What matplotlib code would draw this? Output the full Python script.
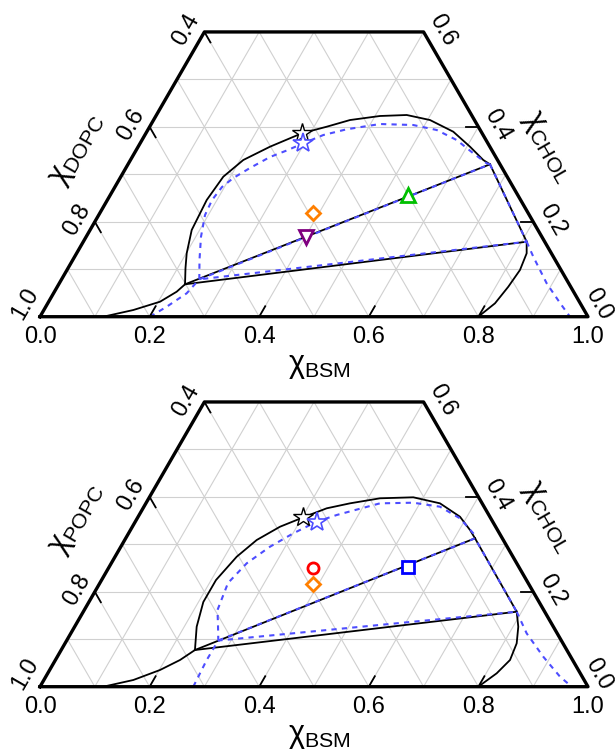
import numpy as np
import matplotlib
matplotlib.use('Agg')
import matplotlib.pyplot as plt

# compositions are (x_BSM, x_CHOL); the third lipid is 1 - BSM - CHOL

# --- top panel: BSM / DOPC / CHOL ---
dopc_black_bsm = [0.1155, 0.1632, 0.2032, 0.2231, 0.2305, 0.2142, 0.2009, 0.1855,
                  0.1813, 0.1870, 0.2059, 0.2406, 0.2844, 0.3230, 0.3585, 0.4090,
                  0.4567, 0.5045, 0.5593, 0.6056, 0.6438, 0.6606]
dopc_black_chol = [0.0, 0.0141, 0.0316, 0.0527, 0.0683, 0.1026, 0.1336, 0.1827,
                   0.2459, 0.2950, 0.3302, 0.3582, 0.3864, 0.4003, 0.4144, 0.4229,
                   0.4250, 0.4144, 0.3898, 0.3582, 0.3302, 0.3211]
dopc_black_r_bsm = [0.8091, 0.8213, 0.8267, 0.8230, 0.8162, 0.7998]
dopc_black_r_chol = [0.1580, 0.1336, 0.0984, 0.0632, 0.0282, 0.0]
dopc_tri_bsm = [0.2305, 0.6606, 0.8091]   # L, T, R
dopc_tri_chol = [0.0683, 0.3211, 0.1580]

dopc_blue_bsm = [0.2007, 0.2207, 0.2430, 0.2513, 0.2313, 0.2095, 0.1940, 0.1910,
                 0.1955, 0.2066, 0.2265, 0.2515, 0.2751, 0.2978, 0.3256, 0.3622,
                 0.4174, 0.4792, 0.5272, 0.5742, 0.6186, 0.6535, 0.6606]
dopc_blue_chol = [0.0, 0.0211, 0.0493, 0.0788, 0.1195, 0.1686, 0.2143, 0.2459,
                  0.2733, 0.2922, 0.3133, 0.3365, 0.3502, 0.3654, 0.3828, 0.3949,
                  0.4060, 0.4039, 0.3934, 0.3723, 0.3443, 0.3232, 0.3211]
dopc_blue_r_bsm = [0.8091, 0.8370, 0.8632, 0.8894, 0.9345, 0.9671]
dopc_blue_r_chol = [0.1580, 0.1264, 0.0984, 0.0704, 0.0289, 0.0]
dopc_blue_vertex = (0.2513, 0.0788)

dopc_points = [  # bsm, chol, marker, color, size
    (0.3898, 0.2179, 'D', '#ff7f00', 7),
    (0.4011, 0.1686, 'v', '#800080', 10),
    (0.5439, 0.2564, '^', '#00c000', 10),
]
dopc_star_black = (0.2844, 0.3864)
dopc_star_blue = (0.2978, 0.3654)

# --- bottom panel: BSM / POPC / CHOL ---
popc_black_bsm = [0.1155, 0.1632, 0.2014, 0.2274, 0.2441, 0.2227, 0.2088, 0.2088,
                  0.2220, 0.2409, 0.2694, 0.3020, 0.3352, 0.3725, 0.4219, 0.4817,
                  0.5367, 0.5873, 0.6196, 0.6375]
popc_black_chol = [0.0, 0.0141, 0.0352, 0.0563, 0.0773, 0.1264, 0.1785, 0.2248,
                   0.2739, 0.3091, 0.3371, 0.3569, 0.3759, 0.3864, 0.3970, 0.3991,
                   0.3864, 0.3582, 0.3302, 0.3127]
popc_black_r_bsm = [0.7909, 0.8096, 0.8242, 0.8296, 0.8193, 0.7998]
popc_black_r_chol = [0.1580, 0.1264, 0.0914, 0.0563, 0.0282, 0.0]
popc_tri_bsm = [0.2441, 0.6375, 0.7909]
popc_tri_chol = [0.0773, 0.3127, 0.1580]

popc_blue_bsm = [0.2797, 0.2761, 0.2767, 0.2598, 0.2431, 0.2338, 0.2472, 0.2722,
                 0.3006, 0.3311, 0.3605, 0.4272, 0.4874, 0.5403, 0.5890, 0.6291,
                 0.6375]
popc_blue_chol = [0.0, 0.0563, 0.0973, 0.1300, 0.1616, 0.2185, 0.2600, 0.2950,
                  0.3232, 0.3477, 0.3618, 0.3864, 0.3877, 0.3793, 0.3548, 0.3232,
                  0.3127]
popc_blue_r_bsm = [0.7909, 0.8318, 0.8868, 0.9384, 0.9703]
popc_blue_r_chol = [0.1580, 0.1125, 0.0632, 0.0211, 0.0]
popc_blue_vertex = (0.2767, 0.0973)

popc_points = [
    (0.3740, 0.2495, 'o', '#ff0000', 8),
    (0.3905, 0.2164, 'D', '#ff7f00', 7),
    (0.5457, 0.2528, 's', '#0000ff', 8),
]
popc_star_black = (0.3020, 0.3569)
popc_star_blue = (0.3311, 0.3477)

bottom_ticks = [0.0, 0.2, 0.4, 0.6, 0.8, 1.0]
left_ticks = [1.0, 0.8, 0.6, 0.4]     # third lipid fraction
right_ticks = [0.0, 0.2, 0.4, 0.6]    # cholesterol fraction

CHOL_MAX = 0.6
H = np.sqrt(3) / 2
BLUE = '#4d4dff'


def to_xy(bsm, chol):
    bsm = np.asarray(bsm, float)
    chol = np.asarray(chol, float)
    return bsm + chol / 2, chol * H


def line(ax, b, c, **kw):
    x, y = to_xy(b, c)
    ax.plot(x, y, **kw)


def draw_frame(ax, lipid):
    grid = dict(color='#d0d0d0', lw=0.8, zorder=1)
    for v in np.arange(1, 10) / 10:
        if v < CHOL_MAX:
            line(ax, [0, 1 - v], [v, v], **grid)
        # constant BSM
        cm = min(CHOL_MAX, 1 - v)
        line(ax, [v, v], [0, cm], **grid)
        # constant DOPC/POPC (bsm + chol = v)
        cm = min(CHOL_MAX, v)
        line(ax, [v, v - cm], [0, cm], **grid)

    frame = dict(color='black', lw=2.4, zorder=5, solid_capstyle='projecting')
    line(ax, [0, 1, 1 - CHOL_MAX, 0, 0],
         [0, 0, CHOL_MAX, CHOL_MAX, 0], **frame)

    tk = dict(color='black', lw=1.3, zorder=5)
    t = 0.022
    for b in [0.2, 0.4, 0.6, 0.8]:
        line(ax, [b, b], [0, t], **tk)
    for d in [0.8, 0.6, 0.4]:
        c = 1 - d
        line(ax, [0, t], [c, c - t], **tk)
    for c in [0.2, 0.4]:
        line(ax, [1 - c, 1 - c - t], [c, c], **tk)

    fs = 17
    for b in bottom_ticks:
        ax.text(b, -0.037, f'{b:.1f}', ha='center', va='center', fontsize=fs)
    for d in left_ticks:
        x, y = to_xy(0, 1 - d)
        dy = 0.023 if d == 1.0 else 0.003
        dx = -0.027 if d == 1.0 else -0.033
        ax.text(x + dx, y + dy, f'{d:.1f}', ha='center', va='center',
                fontsize=fs, rotation=60)
    for c in right_ticks:
        x, y = to_xy(1 - c, c)
        dy = 0.023 if c == 0.0 else 0.003
        dx = 0.019 if c == 0.0 else 0.035
        ax.text(x + dx, y + dy, f'{c:.1f}', ha='center', va='center',
                fontsize=fs, rotation=-60)

    ls = 22
    ax.text(0.51, -0.09, r'$\mathrm{χ}_{\mathrm{BSM}}$', ha='center',
            va='center', fontsize=ls)
    ax.text(0.067, 0.306, r'$\mathrm{χ}_{\mathrm{' + lipid + '}}$',
            ha='center', va='center', fontsize=ls, rotation=60)
    ax.text(0.927, 0.310, r'$\mathrm{χ}_{\mathrm{CHOL}}$', ha='center',
            va='center', fontsize=ls, rotation=-60)


def draw_panel(ax, lipid, blk, blk_r, tri, blu, blu_r, bvert, pts,
               star_k, star_b):
    draw_frame(ax, lipid)
    solid = dict(color='black', lw=1.3, zorder=3)
    dash = dict(color=BLUE, lw=1.5, ls=(0, (2.5, 2.5)), zorder=4)

    line(ax, blk[0], blk[1], **solid)
    line(ax, blk_r[0], blk_r[1], **solid)
    tb, tc = tri
    line(ax, [tb[0], tb[1]], [tc[0], tc[1]], **solid)   # L-T tie line
    line(ax, [tb[0], tb[2]], [tc[0], tc[2]], **solid)   # L-R tie line
    line(ax, [tb[1], tb[2]], [tc[1], tc[2]], **solid)   # T-R side

    line(ax, blu[0], blu[1], **dash)
    line(ax, blu_r[0], blu_r[1], **dash)
    line(ax, [bvert[0], tb[1], tb[2], bvert[0]],
         [bvert[1], tc[1], tc[2], bvert[1]], **dash)

    for b, c, m, col, s in pts:
        x, y = to_xy(b, c)
        ax.plot(x, y, marker=m, ms=s, mfc='white', mec=col, mew=2,
                ls='none', zorder=6)
    x, y = to_xy(*star_k)
    ax.plot(x, y, marker='*', ms=15, mfc='white', mec='black', mew=1,
            ls='none', zorder=6)
    x, y = to_xy(*star_b)
    ax.plot(x, y, marker='*', ms=15, mfc='white', mec=BLUE, mew=1.2,
            ls='none', zorder=6)


def main():
    plt.rcParams['font.family'] = ['Liberation Sans', 'DejaVu Sans']
    plt.rcParams['mathtext.fontset'] = 'custom'
    plt.rcParams['mathtext.rm'] = 'Liberation Sans'
    plt.rcParams['mathtext.it'] = 'Liberation Sans:italic'
    plt.rcParams['mathtext.fallback'] = 'cm'

    fig = plt.figure(figsize=(6.15, 7.53), dpi=100)
    ax1 = fig.add_axes([0, 0.5, 1, 0.5])
    ax2 = fig.add_axes([0, 0, 1, 0.5])
    for ax in (ax1, ax2):
        ax.set_xlim(-0.073, 1.0493)
        ax.axis('off')
    ax1.set_ylim(-0.1091, 0.5779)
    ax2.set_ylim(-0.121, 0.5661)

    draw_panel(ax1, 'DOPC', (dopc_black_bsm, dopc_black_chol),
               (dopc_black_r_bsm, dopc_black_r_chol),
               (dopc_tri_bsm, dopc_tri_chol),
               (dopc_blue_bsm, dopc_blue_chol),
               (dopc_blue_r_bsm, dopc_blue_r_chol), dopc_blue_vertex,
               dopc_points, dopc_star_black, dopc_star_blue)
    draw_panel(ax2, 'POPC', (popc_black_bsm, popc_black_chol),
               (popc_black_r_bsm, popc_black_r_chol),
               (popc_tri_bsm, popc_tri_chol),
               (popc_blue_bsm, popc_blue_chol),
               (popc_blue_r_bsm, popc_blue_r_chol), popc_blue_vertex,
               popc_points, popc_star_black, popc_star_blue)

    fig.savefig('out.png', dpi=100)


if __name__ == "__main__":
    main()
